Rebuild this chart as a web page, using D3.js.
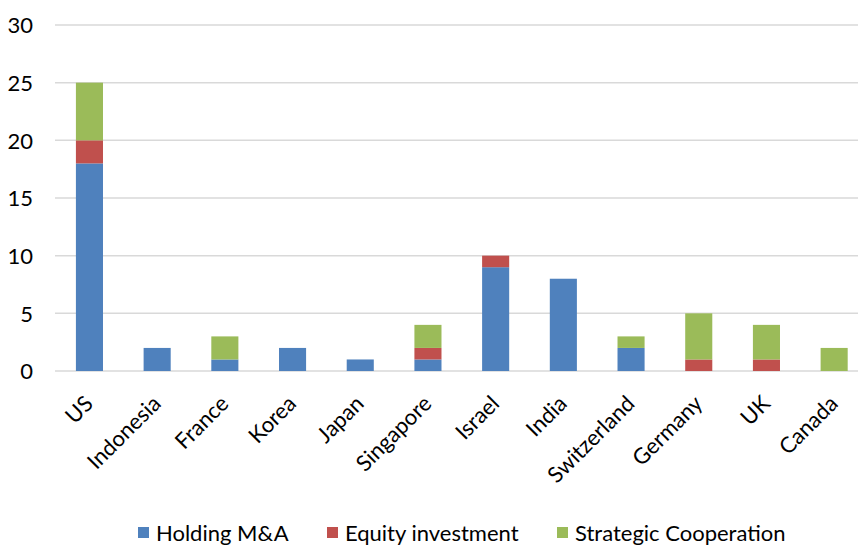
<!DOCTYPE html>
<html>
<head>
<meta charset="utf-8">
<script src="https://cdn.jsdelivr.net/npm/d3@7"></script>
<style>
  html, body { margin: 0; padding: 0; background: #fff; }
  svg { display: block; }
  text { font-family: Lato, "Open Sans", sans-serif; fill: #000; }
</style>
</head>
<body>
<script>
const categories = ["US", "Indonesia", "France", "Korea", "Japan", "Singapore", "Israel", "India", "Switzerland", "Germany", "UK", "Canada"];
const holdingMA = [18, 2, 1, 2, 1, 1, 9, 8, 2, 0, 0, 0];
const equityInvestment = [2, 0, 0, 0, 0, 1, 1, 0, 0, 1, 1, 0];
const strategicCooperation = [5, 0, 2, 0, 0, 2, 0, 0, 1, 4, 3, 2];
const seriesNames = ["Holding M&A", "Equity investment", "Strategic Cooperation"];
const seriesColors = ["#4F81BD", "#C0504D", "#9BBB59"];
const yTicks = [0, 5, 10, 15, 20, 25, 30];

const W = 858, H = 546;
const svg = d3.select("body").append("svg").attr("width", W).attr("height", H);

const table = categories.map((c, i) => ({
  cat: c,
  "Holding M&A": holdingMA[i],
  "Equity investment": equityInvestment[i],
  "Strategic Cooperation": strategicCooperation[i]
}));
const stacked = d3.stack().keys(seriesNames)(table);

const x = d3.scaleBand().domain(categories).range([55.6, 868]).paddingInner(0.6).paddingOuter(0.3);
const y = d3.scaleLinear().domain([0, 30]).range([371, 25]);

// gridlines
svg.append("g").selectAll("line").data(yTicks).join("line")
  .attr("x1", 55).attr("x2", W)
  .attr("y1", d => y(d)).attr("y2", d => y(d))
  .attr("stroke", "#D9D9D9").attr("stroke-width", 1.5);

// y axis labels
const yAxis = d3.axisLeft(y).tickValues(yTicks).tickSize(0).tickPadding(0);
const yg = svg.append("g").attr("transform", "translate(33,0)").call(yAxis);
yg.select(".domain").remove();
yg.selectAll("text").style("font-size", "22px").attr("dy", "0.35em").style("font-family", "Lato, sans-serif");

// bars
svg.append("g").selectAll("g").data(stacked).join("g")
  .attr("fill", (d, i) => seriesColors[i])
  .selectAll("rect").data(d => d).join("rect")
  .attr("x", d => x(d.data.cat))
  .attr("width", x.bandwidth())
  .attr("y", d => y(d[1]))
  .attr("height", d => y(d[0]) - y(d[1]));

// x labels
const xAxis = d3.axisBottom(x).tickSize(0).tickPadding(0);
const xg = svg.append("g").attr("transform", "translate(0,371)").call(xAxis);
xg.select(".domain").remove();
xg.selectAll("text")
  .style("font-size", "22px").style("font-family", "Lato, sans-serif")
  .attr("text-anchor", "end")
  .attr("dy", "0")
  .attr("y", 0)
  .attr("transform", "translate(5,34) rotate(-45)");

// legend
const legendX = [138, 327, 557];
const lg = svg.append("g").selectAll("g").data(seriesNames).join("g")
  .attr("transform", (d, i) => `translate(${legendX[i]},533)`);
lg.append("rect").attr("x", 0).attr("y", -6).attr("width", 11).attr("height", 11)
  .attr("fill", (d, i) => seriesColors[i]);
lg.append("text").attr("x", 18).attr("y", 0).attr("dy", "0.35em")
  .style("font-size", "22px").text(d => d);
</script>
</body>
</html>
